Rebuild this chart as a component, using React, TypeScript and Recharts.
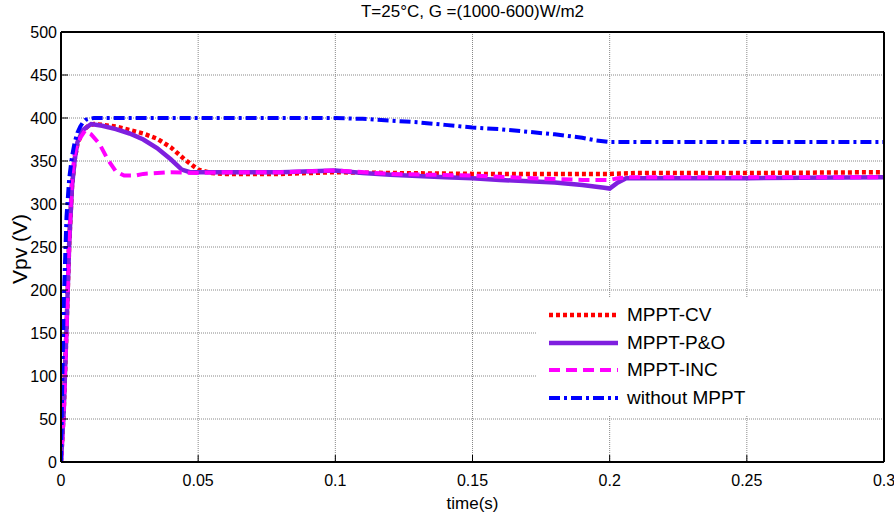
import React from 'react';
import { LineChart, Line, XAxis, YAxis, CartesianGrid, Legend } from 'recharts';

const TITLE = 'T=25°C, G =(1000-600)W/m2';
const X_LABEL = 'time(s)';
const Y_LABEL = 'Vpv (V)';

const xTicks = [0, 0.05, 0.1, 0.15, 0.2, 0.25, 0.3];
const yTicks = [0, 50, 100, 150, 200, 250, 300, 350, 400, 450, 500];

// MPPT-CV
const cvTime = [0, 0.001, 0.002, 0.003, 0.004, 0.005, 0.006, 0.008, 0.01, 0.012, 0.015, 0.02, 0.025, 0.03, 0.035, 0.04, 0.045, 0.05, 0.055, 0.06, 0.08, 0.1, 0.12, 0.15, 0.18, 0.2, 0.21, 0.25, 0.3];
const cvVpv = [0, 60, 155, 255, 320, 352, 370, 385, 391, 393, 392, 390, 386, 382, 376, 366, 352, 340, 336, 335, 335, 337, 336, 335, 335, 335, 336, 336, 337];

// MPPT-P&O
const poTime = [0, 0.001, 0.002, 0.003, 0.004, 0.005, 0.006, 0.008, 0.011, 0.015, 0.02, 0.025, 0.03, 0.035, 0.04, 0.044, 0.047, 0.05, 0.06, 0.08, 0.1, 0.11, 0.12, 0.14, 0.15, 0.16, 0.18, 0.19, 0.198, 0.2, 0.203, 0.206, 0.25, 0.3];
const poVpv = [0, 60, 155, 255, 320, 352, 372, 386, 393, 391, 387, 382, 375, 365, 352, 340, 337, 337, 337, 337, 339, 336, 334, 331, 330, 328, 325, 322, 319, 318, 325, 330, 330, 331];

// MPPT-INC
const incTime = [0, 0.001, 0.002, 0.003, 0.004, 0.005, 0.006, 0.0087, 0.011, 0.014, 0.017, 0.02, 0.023, 0.027, 0.03, 0.04, 0.05, 0.06, 0.08, 0.1, 0.12, 0.15, 0.18, 0.19, 0.2, 0.203, 0.206, 0.25, 0.3];
const incVpv = [0, 60, 155, 260, 330, 358, 372, 385, 381, 370, 352, 338, 333, 333, 335, 337, 336, 337, 337, 339, 335, 333, 329, 328, 328, 330, 331, 331, 331];

// without MPPT
const noTime = [0, 0.0005, 0.001, 0.002, 0.003, 0.004, 0.005, 0.006, 0.007, 0.008, 0.009, 0.01, 0.012, 0.03, 0.05, 0.07, 0.09, 0.1, 0.11, 0.12, 0.13, 0.14, 0.15, 0.16, 0.17, 0.18, 0.19, 0.195, 0.2, 0.205, 0.25, 0.3];
const noVpv = [0, 100, 185, 285, 330, 355, 372, 383, 390, 395, 398, 399, 400, 400, 400, 400, 400, 400, 399, 397, 395, 392, 389, 387, 384, 381, 377, 374, 372, 372, 372, 372];

const toRows = (t: number[], v: number[]) => t.map((x, i) => ({ t: x, v: v[i] }));

const series = [
  { name: 'MPPT-CV', data: toRows(cvTime, cvVpv), color: '#ff0000', width: 4.5, dash: '4 3' },
  { name: 'MPPT-P&O', data: toRows(poTime, poVpv), color: '#7f1fdf', width: 4.5, dash: undefined },
  { name: 'MPPT-INC', data: toRows(incTime, incVpv), color: '#ff00ff', width: 4, dash: '11 6' },
  { name: 'without MPPT', data: toRows(noTime, noVpv), color: '#0000ff', width: 4, dash: '11 4 3 4' },
];

const FONT = '"Liberation Sans", Arial, Helvetica, sans-serif';
const NARROW = '"Liberation Sans Narrow", "Arial Narrow", "Liberation Sans", sans-serif';

const LegendBox = () => (
  <div style={{ width: 345, height: 118, background: '#fff', position: 'relative' }}>
    {series.map((s, i) => (
      <div key={s.name} style={{ position: 'absolute', left: 0, top: 5 + i * 27.7, height: 24, display: 'flex', alignItems: 'center' }}>
        <svg width={90} height={24} style={{ display: 'block' }}>
          <line x1={12} x2={81} y1={12} y2={12} stroke={s.color} strokeWidth={s.width} strokeDasharray={s.dash} />
        </svg>
        <span style={{ fontFamily: NARROW, fontSize: 19, color: '#000', whiteSpace: 'nowrap' }}>{s.name}</span>
      </div>
    ))}
  </div>
);

const fmt = (v: number) => String(v);

export default function App() {
  return (
    <div style={{ position: 'absolute', left: 0, top: 0, width: 894, height: 518, background: '#fff' }}>
      <div style={{ position: 'absolute', left: 61, width: 823, top: 2, textAlign: 'center', fontFamily: FONT, fontSize: 17, color: '#000', lineHeight: '20px' }}>
        {TITLE}
      </div>
      <LineChart width={894} height={518} margin={{ top: 0, right: 0, bottom: 0, left: 0 }}>
        <CartesianGrid xAxisId="b" yAxisId="l" stroke="#888" strokeDasharray="1 1" strokeWidth={1} />
        <XAxis
          xAxisId="b"
          dataKey="t"
          type="number"
          domain={[0, 0.3]}
          ticks={xTicks}
          tickFormatter={fmt}
          allowDataOverflow
          height={56}
          stroke="#000"
          axisLine={{ stroke: '#000', strokeWidth: 2 }}
          tickLine={{ stroke: '#000', strokeWidth: 1 }}
          tickSize={-7}
          tickMargin={20}
          tick={{ fontFamily: FONT, fontSize: 16, fill: '#000' }}
          label={{ value: X_LABEL, position: 'insideBottom', offset: 9, style: { fontFamily: FONT, fontSize: 17, fill: '#000' } }}
        />
        <XAxis
          xAxisId="top"
          orientation="top"
          type="number"
          domain={[0, 0.3]}
          ticks={xTicks}
          height={32}
          axisLine={{ stroke: '#000', strokeWidth: 2 }}
          tickLine={{ stroke: '#000', strokeWidth: 1 }}
          tickSize={-7}
          tick={false}
        />
        <YAxis
          yAxisId="l"
          type="number"
          domain={[0, 500]}
          ticks={yTicks}
          allowDataOverflow
          width={61}
          axisLine={{ stroke: '#000', strokeWidth: 2 }}
          tickLine={{ stroke: '#000', strokeWidth: 1 }}
          tickSize={-7}
          tickMargin={11}
          tick={{ fontFamily: FONT, fontSize: 16, fill: '#000' }}
          label={{
            value: Y_LABEL,
            content: () => (
              <text x={19} y={249} transform="rotate(-90 19 249)" textAnchor="middle" dominantBaseline="central" fontFamily={FONT} fontSize={21} fill="#000">
                {Y_LABEL}
              </text>
            ),
          }}
        />
        <YAxis
          yAxisId="r"
          orientation="right"
          type="number"
          domain={[0, 500]}
          ticks={yTicks}
          width={10}
          axisLine={{ stroke: '#000', strokeWidth: 2 }}
          tickLine={{ stroke: '#000', strokeWidth: 1 }}
          tickSize={-7}
          tick={false}
        />
        {series.map((s) => (
          <Line
            key={s.name}
            xAxisId="b"
            yAxisId="l"
            data={s.data}
            dataKey="v"
            name={s.name}
            type="linear"
            stroke={s.color}
            strokeWidth={s.width}
            strokeDasharray={s.dash}
            dot={false}
            activeDot={false}
            isAnimationActive={false}
          />
        ))}
        <Legend
          layout="vertical"
          align="center"
          verticalAlign="middle"
          content={() => <LegendBox />}
          wrapperStyle={{ left: 537, top: 298, width: 345, height: 118, right: 'auto', bottom: 'auto' }}
        />
      </LineChart>
    </div>
  );
}
